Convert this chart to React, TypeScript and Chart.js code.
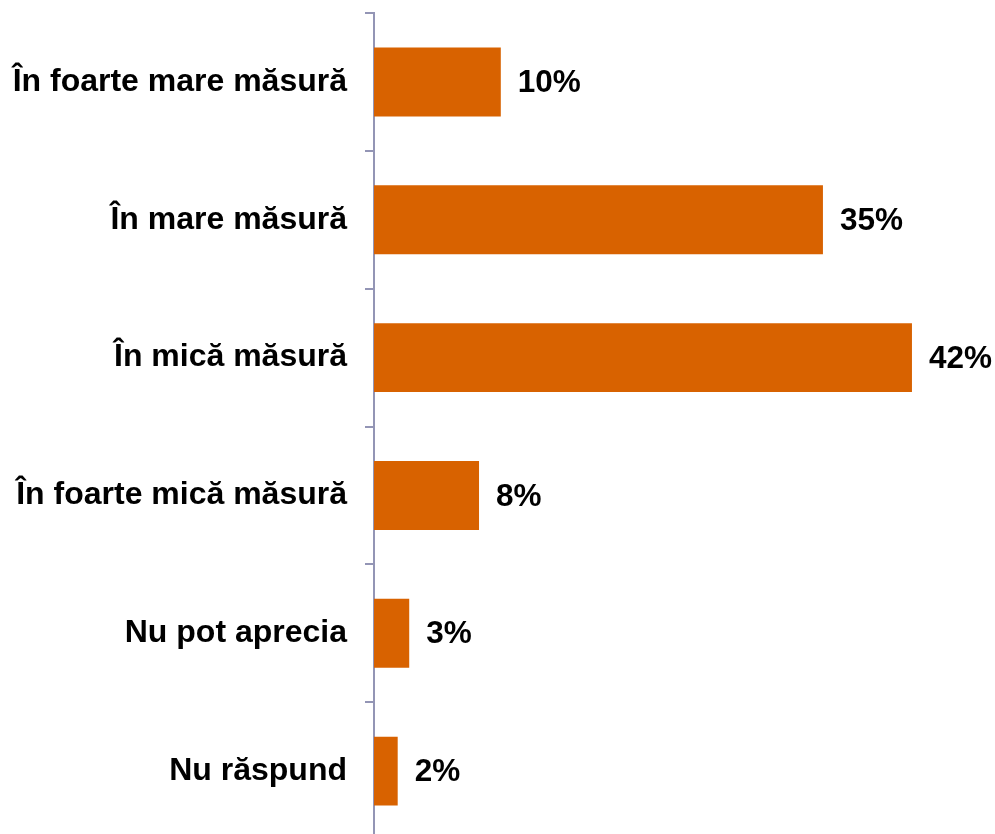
import React, { useEffect, useRef } from "react";
import { Chart, registerables } from "chart.js";

Chart.register(...registerables);

const categories = [
  "În foarte mare măsură",
  "În mare măsură",
  "În mică măsură",
  "În foarte mică măsură",
  "Nu pot aprecia",
  "Nu răspund",
];
const values = [9.9, 35.05, 42.0, 8.2, 2.75, 1.85];
const valueLabels = ["10%", "35%", "42%", "8%", "3%", "2%"];

const FONT = "'Liberation Sans', Arial, sans-serif";
const AXIS_COLOR = "#9395b5";
const BAR_COLOR = "#D86200";

const labelPlugin = {
  id: "valueLabels",
  afterDatasetsDraw(chart: any) {
    const ctx = chart.ctx;
    const meta = chart.getDatasetMeta(0);
    ctx.save();
    ctx.font = `bold 31.5px ${FONT}`;
    ctx.fillStyle = "#000";
    ctx.textAlign = "left";
    ctx.textBaseline = "middle";
    meta.data.forEach((bar: any, i: number) => {
      ctx.fillText(valueLabels[i], bar.x + 17, bar.y + 1.5);
    });
    ctx.restore();
  },
};

export default function App() {
  const ref = useRef<HTMLCanvasElement>(null);
  useEffect(() => {
    document.body.style.margin = "0";
    const chart = new Chart(ref.current!, {
      type: "bar",
      data: {
        labels: categories,
        datasets: [
          {
            data: values,
            backgroundColor: BAR_COLOR,
            borderWidth: 0,
            categoryPercentage: 1,
            barPercentage: 0.5,
          },
        ],
      },
      options: {
        indexAxis: "y",
        animation: false,
        responsive: false,
        layout: { padding: { top: 13, bottom: 2, left: 0, right: 19 } },
        plugins: { legend: { display: false }, tooltip: { enabled: false } },
        scales: {
          x: { display: false, min: 0, max: 47 },
          y: {
            z: 1,
            afterFit(scale: any) {
              scale.width = 374;
              scale.paddingTop = 0;
              scale.paddingBottom = 0;
            },
            border: { display: true, color: AXIS_COLOR, width: 2 },
            grid: {
              display: true,
              drawOnChartArea: false,
              drawTicks: true,
              tickLength: 9,
              color: AXIS_COLOR,
              lineWidth: 2,
              offset: true,
            },
            ticks: {
              padding: 18,
              color: "#000",
              font: { family: FONT, size: 32, weight: "bold" },
            },
          },
        },
      },
      plugins: [labelPlugin],
    });
    return () => chart.destroy();
  }, []);
  return (
    <div style={{ width: 995, height: 834, overflow: "hidden" }}>
      <canvas ref={ref} width={995} height={842} style={{ display: "block" }} />
    </div>
  );
}
